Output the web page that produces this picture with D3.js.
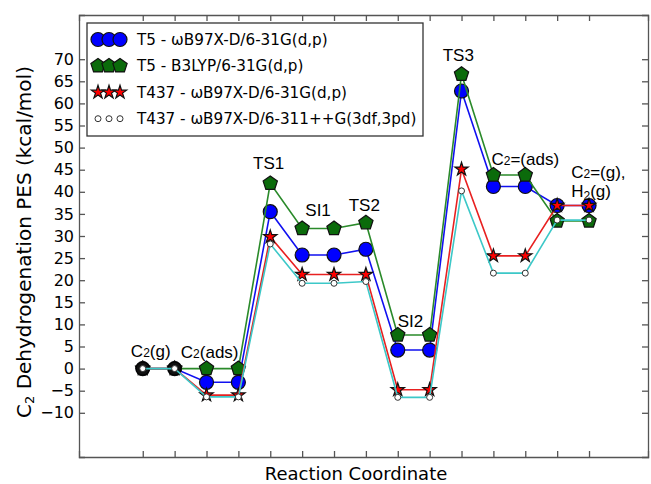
<!DOCTYPE html>
<html lang="en-us">
<meta charset="utf-8">
<head>
	<title>C2 dehydrogenation PES</title>
	<style>
	body { margin: 0; background: #fff; }
	.axis path, .axis line { stroke: #555; stroke-width: 1.3px; }
	.axis text { font: 16px "DejaVu Sans", sans-serif; fill: #000; }
	.lbl { font: 17px "Liberation Sans", Arial, sans-serif; fill: #000; }
	.leg { font: 15.2px "DejaVu Sans", sans-serif; fill: #000; }
	</style>
</head>
<body>
	<svg width="651" height="484"></svg>
	<script src="https://cdn.jsdelivr.net/npm/d3@7"></script>
	<script>

// reaction steps (index along the reaction coordinate)
var steps = d3.range(15);

var t5wb97 = [0, 0, -3.1, -3.1, 35.5, 25.7, 25.7, 27.0, 4.2, 4.2, 62.8, 41.2, 41.2, 36.9, 36.9];
var t5b3lyp = [0, 0, 0, 0, 41.9, 31.7, 31.7, 33.0, 7.6, 7.6, 66.6, 43.8, 43.8, 33.4, 33.4];
var t437wb97 = [0, 0, -6.0, -6.0, 29.8, 21.3, 21.3, 21.3, -4.8, -4.8, 45.1, 25.5, 25.5, 36.9, 36.9];
var t437big = [0, 0, -6.4, -6.4, 28.2, 19.3, 19.3, 19.7, -6.5, -6.5, 40.2, 21.6, 21.6, 33.6, 33.6];

// shared gas-phase reference points
var refSteps = [0, 1];
var refValues = [0, 0];

var yTicks = d3.range(-10, 71, 5);

var seriesNames = ["T5 - \u03c9B97X-D/6-31G(d,p)", "T5 - B3LYP/6-31G(d,p)",
                   "T437 - \u03c9B97X-D/6-31G(d,p)", "T437 - \u03c9B97X-D/6-311++G(3df,3pd)"];

// state labels: centre step and baseline (in kcal/mol)
var stateLabels = [
  {step: 0.25, y: 2.6, parts: ["C", "2", "(g)"]},
  {step: 2.1, y: 2.4, parts: ["C", "2", "(ads)"]},
  {step: 3.95, y: 45.2, parts: ["TS1", "", ""]},
  {step: 5.5, y: 34.5, parts: ["SI1", "", ""]},
  {step: 6.95, y: 35.7, parts: ["TS2", "", ""]},
  {step: 8.4, y: 9.4, parts: ["SI2", "", ""]},
  {step: 9.9, y: 69.6, parts: ["TS3", "", ""]},
  {step: 12.0, y: 46.1, parts: ["C", "2", "=(ads)"]}
];

var svg = d3.select("svg"),
    plotL = 79, plotR = 648, plotT = 15, plotB = 457;

var x = d3.scaleLinear().domain([-2, 15.85]).range([plotL, plotR]),
    y = d3.scaleLinear().domain([-20, 80]).range([plotB, plotT]);

var series = [
  {name: seriesNames[0], values: t5wb97, line: "#1010f0", fill: "#0000ff", shape: "circle", size: 7},
  {name: seriesNames[1], values: t5b3lyp, line: "#2a8a2a", fill: "#0b6b0b", shape: "pentagon", size: 7.5},
  {name: seriesNames[2], values: t437wb97, line: "#e82020", fill: "#ff0000", shape: "star", size: 7},
  {name: "ref", values: null},
  {name: seriesNames[3], values: t437big, line: "#3cc8c8", fill: "#ffffff", shape: "small", size: 3}
];

function pentagon(r) {
  var p = [];
  for (var k = 0; k < 5; k++) {
    var a = -Math.PI / 2 + k * 2 * Math.PI / 5;
    p.push([r * Math.cos(a), r * Math.sin(a)]);
  }
  return "M" + p.join("L") + "Z";
}

function markerPath(shape, r) {
  if (shape === "pentagon") return pentagon(r);
  if (shape === "star") return d3.symbol(d3.symbolStar, r * r / 0.89081)();
  return d3.symbol(d3.symbolCircle, Math.PI * r * r)();
}

function drawMarker(g, s, cx, cy) {
  g.append("path")
      .attr("transform", "translate(" + cx + "," + cy + ")")
      .attr("d", markerPath(s.shape, s.size))
      .attr("fill", s.fill)
      .attr("stroke", s.shape === "small" ? "#333" : "#111")
      .attr("stroke-width", s.shape === "small" ? 1 : 1.2);
}

var line = d3.line()
    .x(function(d, i) { return x(steps[i]); })
    .y(function(d) { return y(d); });

var plot = svg.append("g");

series.forEach(function(s) {
  if (s.values === null) {
    // black reference markers at the gas-phase start
    refSteps.forEach(function(st, i) {
      plot.append("circle")
          .attr("cx", x(st)).attr("cy", y(refValues[i]))
          .attr("r", 6.5)
          .attr("fill", "#111").attr("stroke", "#000");
    });
    return;
  }
  plot.append("path")
      .attr("d", line(s.values))
      .attr("fill", "none")
      .attr("stroke", s.line)
      .attr("stroke-width", 1.6);
  s.values.forEach(function(v, i) {
    drawMarker(plot, s, x(steps[i]), y(v));
  });
});

// frame and axes (ticks pointing inward)
svg.append("g").attr("class", "axis")
    .attr("transform", "translate(" + plotL + ",0)")
    .call(d3.axisLeft(y).tickValues(yTicks).tickSize(-6).tickPadding(5)
      .tickFormat(function(d) { return d < 0 ? "\u2212" + Math.abs(d) : d; }));

svg.append("g").attr("class", "axis")
    .attr("transform", "translate(" + plotR + ",0)")
    .call(d3.axisRight(y).tickValues(yTicks).tickSize(-6).tickFormat(""));

svg.append("g").attr("class", "axis")
    .attr("transform", "translate(0," + plotB + ")")
    .call(d3.axisBottom(x).tickValues(steps).tickSize(-6).tickFormat(""));

svg.append("g").attr("class", "axis")
    .attr("transform", "translate(0," + plotT + ")")
    .call(d3.axisTop(x).tickValues(steps).tickSize(-6).tickFormat(""));

svg.selectAll(".axis .domain").attr("stroke-width", 1.6);

// axis titles
var yl = svg.append("text")
    .attr("transform", "translate(31," + ((plotT + plotB) / 2 + 6) + ") rotate(-90)")
    .attr("text-anchor", "middle")
    .style("font", "20px 'DejaVu Sans', sans-serif");
yl.append("tspan").text("C");
yl.append("tspan").attr("font-size", "13px").attr("dy", 3).text("2");
yl.append("tspan").attr("dy", -3).text(" Dehydrogenation PES (kcal/mol)");

svg.append("text")
    .attr("x", 356)
    .attr("y", 480)
    .attr("text-anchor", "middle")
    .style("font", "18px 'DejaVu Sans', sans-serif")
    .text("Reaction Coordinate");

// state labels
stateLabels.forEach(function(l) {
  var t = svg.append("text").attr("class", "lbl")
      .attr("x", x(l.step))
      .attr("y", y(l.y))
      .attr("text-anchor", "middle");
  t.append("tspan").text(l.parts[0]);
  if (l.parts[1]) t.append("tspan").attr("font-size", "12px").text(l.parts[1]);
  if (l.parts[2]) t.append("tspan").text(l.parts[2]);
});

var last = svg.append("text").attr("class", "lbl")
    .attr("x", x(13.44)).attr("y", y(43.1));
last.append("tspan").text("C");
last.append("tspan").attr("font-size", "12px").text("2");
last.append("tspan").text("=(g),");
var last2 = svg.append("text").attr("class", "lbl")
    .attr("x", x(13.44)).attr("y", y(38.8));
last2.append("tspan").text("H");
last2.append("tspan").attr("font-size", "12px").attr("dy", 3).text("2");
last2.append("tspan").attr("dy", -3).text("(g)");

// legend
var legend = svg.append("g");
legend.append("rect")
    .attr("x", 87).attr("y", 23)
    .attr("width", 336).attr("height", 113)
    .attr("fill", "#fff").attr("stroke", "#333").attr("stroke-width", 1.3);

var legSeries = series.filter(function(s) { return s.values !== null; });
legSeries.forEach(function(s, i) {
  var cy = 39.5 + i * 26.4;
  [98, 109, 120].forEach(function(cx) {
    drawMarker(legend, s, cx, cy);
  });
  legend.append("text").attr("class", "leg")
      .attr("x", 137).attr("y", cy + 5.5)
      .text(s.name);
});

</script>
</body>
</html>
